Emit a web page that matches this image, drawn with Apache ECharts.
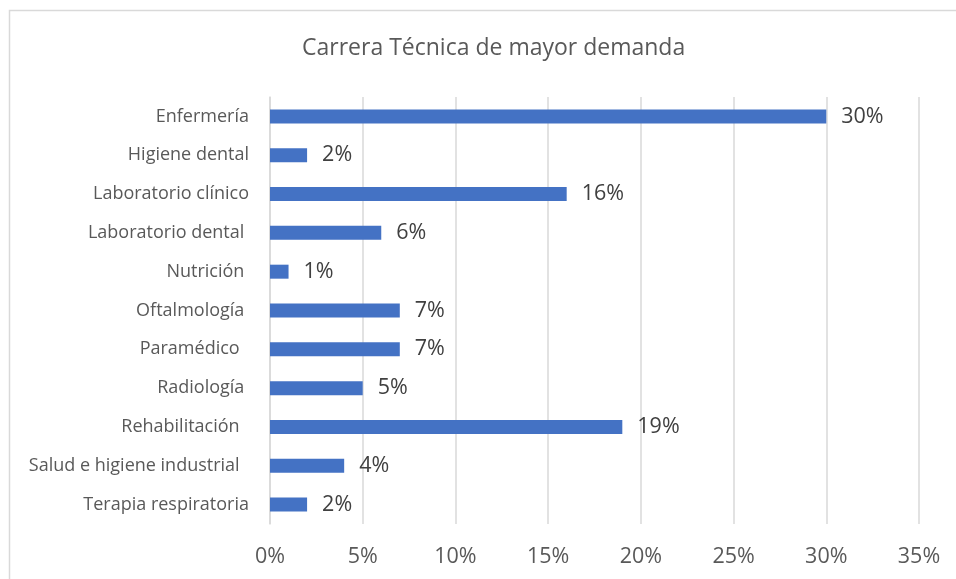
<!DOCTYPE html>
<html>
<head>
<meta charset="utf-8">
<script src="https://cdn.jsdelivr.net/npm/echarts@6/dist/echarts.min.js"></script>
<style>
html,body{margin:0;padding:0;background:#fff;}
#chart{width:956px;height:579px;}
</style>
</head>
<body>
<div id="chart"></div>
<script>
// carreras, de arriba hacia abajo (los espacios finales vienen del original)
var carreras = ['Enfermería','Higiene dental','Laboratorio clínico','Laboratorio dental ','Nutrición ','Oftalmología ','Paramédico  ','Radiología ','Rehabilitación  ','Salud e higiene industrial  ','Terapia respiratoria'];
var porcentajes = [30,2,16,6,1,7,7,5,19,4,2];
var ejeX = [0,5,10,15,20,25,30,35];

var fuente = '"Open Sans", "Noto Sans", sans-serif';
var myChart = echarts.init(document.getElementById('chart'));
var option = {
	animation: false,
	backgroundColor: '#fff',
	graphic: [{
		type: 'rect',
		shape: {x: 9.5, y: 10.5, width: 980, height: 600},
		style: {fill: 'none', stroke: '#d9d9d9', lineWidth: 1.5}
	}],
	title: {
		text: 'Carrera Técnica de mayor demanda',
		left: 297,
		top: 32,
		textStyle: {fontFamily: fuente, fontSize: 23, fontWeight: 'normal', color: '#595959'}
	},
	grid: {left: 270, right: 37, top: 97, bottom: 55, containLabel: false},
	xAxis: {
		type: 'value',
		min: ejeX[0],
		max: ejeX[ejeX.length - 1],
		interval: 5,
		axisLine: {show: false},
		axisTick: {show: false},
		splitLine: {lineStyle: {color: '#d9d9d9', width: 1.5}},
		axisLabel: {
			margin: 22,
			fontFamily: fuente, fontSize: 21.5, color: '#595959',
			formatter: function(v){ return v + '%'; }
		}
	},
	yAxis: {
		type: 'category',
		inverse: true,
		data: carreras,
		axisLine: {show: true, lineStyle: {color: '#d9d9d9', width: 1.5}},
		axisTick: {show: false},
		axisLabel: {margin: 21, fontFamily: fuente, fontSize: 18, color: '#595959'}
	},
	series: [{
		type: 'bar',
		data: porcentajes,
		barWidth: 14,
		itemStyle: {color: '#4472c4'},
		label: {
			show: true,
			position: 'right',
			distance: 15,
			fontFamily: fuente, fontSize: 21.5, color: '#404040',
			formatter: function(p){ return p.value + '%'; }
		}
	}]
};
myChart.setOption(option);
</script>
</body>
</html>
